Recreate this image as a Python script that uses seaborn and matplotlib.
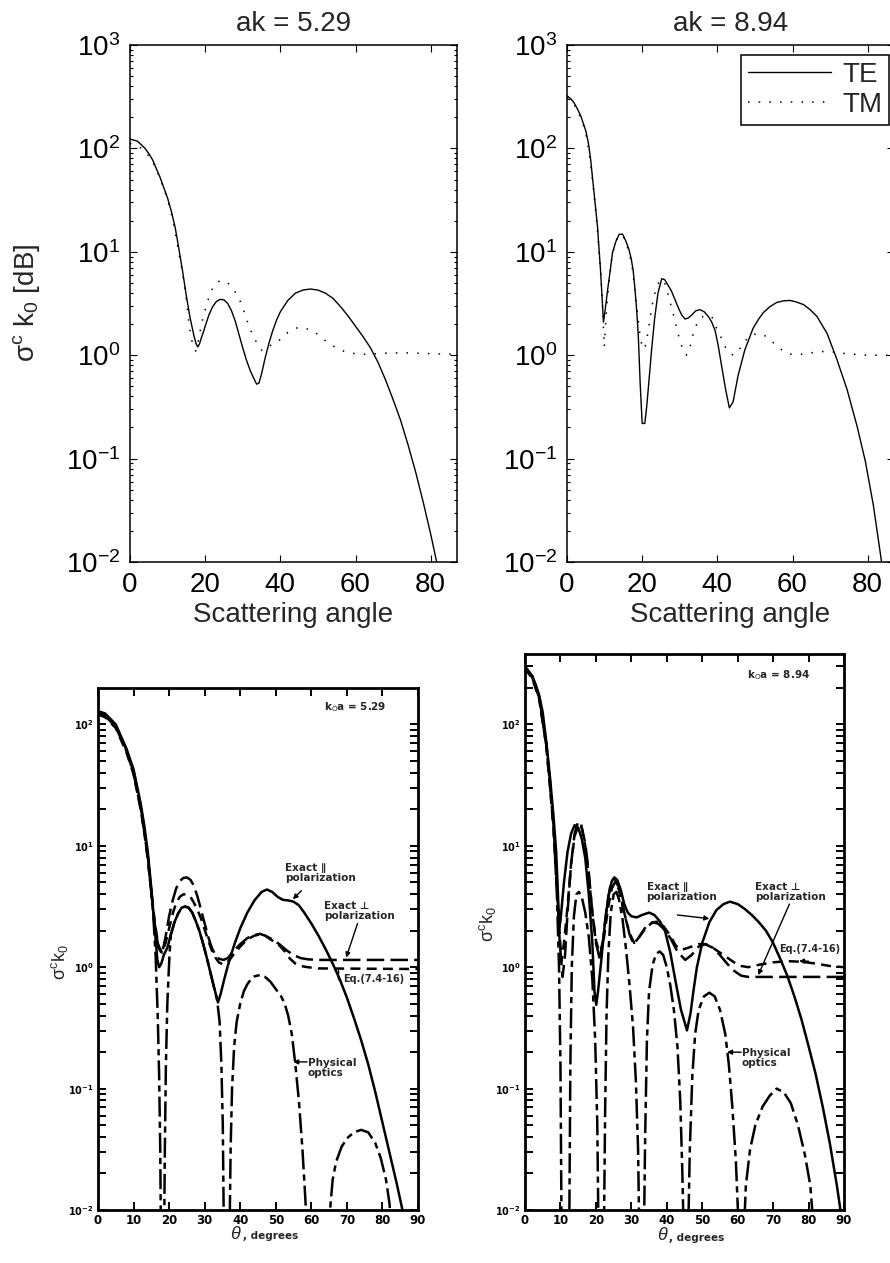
import numpy as np
import pandas as pd
import matplotlib
matplotlib.use('Agg')
import matplotlib.pyplot as plt
import seaborn as sns
from matplotlib.ticker import LogLocator, NullFormatter

# ---- data (angles in degrees, values read as log10 of sigma^c k0) ----
# top left, ak = 5.29
te529_deg = [0, 2, 4, 5, 6, 8, 10, 11, 12, 13, 14, 15, 16, 17, 17.5, 18, 18.5, 19, 19.5, 20,
             21, 22, 23, 24, 25, 26, 27, 28, 29, 30, 31, 32, 33, 33.7, 34.3, 35, 36, 37, 38, 39,
             40, 42, 44, 46, 48, 50, 52, 54, 56, 58, 60, 62, 64, 66, 68, 70, 72, 74, 76, 78,
             80, 82, 84]
te529_log = [2.09, 2.07, 2.0, 1.95, 1.89, 1.72, 1.52, 1.39, 1.24, 1.03, 0.81, 0.57, 0.36, 0.19, 0.12,
             0.08, 0.11, 0.17, 0.22, 0.28, 0.39, 0.47, 0.52, 0.54, 0.535, 0.50, 0.43, 0.33, 0.2, 0.07,
             -0.05, -0.15, -0.23, -0.28, -0.27, -0.18, -0.02, 0.12, 0.24, 0.34, 0.42, 0.53, 0.60, 0.63,
             0.64, 0.63, 0.60, 0.55, 0.47, 0.38, 0.28, 0.18, 0.07, -0.07, -0.24, -0.43, -0.63, -0.87,
             -1.13, -1.42, -1.73, -2.07, -2.45]
tm529_deg = [0, 2, 3.2, 5.2, 6.6, 8, 9, 10, 11, 12, 13, 14, 15, 15.7, 16.4, 17, 17.5, 18, 18.6, 19.2,
             20, 21, 22, 23, 24, 25, 26, 27, 28, 29, 30, 31, 32, 33, 34, 35, 36, 37, 38, 40,
             42, 44, 45.3, 46.5, 48.4, 50, 51, 52, 54, 56, 58, 60, 63, 66, 70, 74, 78, 82, 87]
tm529_log = [2.05, 2.02, 2.0, 1.92, 1.83, 1.71, 1.61, 1.50, 1.37, 1.19, 0.99, 0.79, 0.54, 0.30, 0.15,
             0.06, 0.04, 0.10, 0.22, 0.33, 0.44, 0.56, 0.65, 0.70, 0.72, 0.72, 0.70, 0.66, 0.61, 0.55,
             0.46, 0.35, 0.25, 0.17, 0.10, 0.05, 0.05, 0.08, 0.12, 0.15, 0.22, 0.26, 0.27, 0.26, 0.24,
             0.20, 0.17, 0.14, 0.09, 0.05, 0.025, 0.015, 0.008, 0.017, 0.022, 0.022, 0.018, 0.012, 0.01]

# top right, ak = 8.94
te894_deg = [0, 1, 1.9, 2.8, 3.7, 5, 5.7, 6.3, 7.2, 8.1, 8.85, 9.3, 9.7, 10.2, 10.8, 11.5, 12.1, 13,
             13.9, 14.8, 15.7, 16.5, 17.1, 17.6, 18, 18.4, 18.7, 19, 19.5, 20, 20.7, 21.2, 21.8, 22.5,
             23.3, 24.2, 25.2, 26, 27, 27.8, 28.7, 29.6, 30.5, 31.4, 32.3, 33.2, 34.3, 35.4, 36.5,
             37.6, 38.5, 39.4, 40.2, 41, 42.2, 43.2, 44.2, 45.5, 47.3, 49.5, 51, 52.2, 54, 55.8, 57.5,
             59.3, 61, 62.9, 64.7, 66.5, 69.2, 71.8, 74.5, 77.2, 79.4, 81.5, 83.5, 85]
te894_log = [2.51, 2.48, 2.44, 2.38, 2.31, 2.17, 2.05, 1.89, 1.57, 1.25, 0.86, 0.58, 0.32, 0.45, 0.63,
             0.82, 0.99, 1.1, 1.17, 1.17, 1.1, 1.02, 0.93, 0.82, 0.67, 0.5, 0.35, 0.16, -0.3, -0.66,
             -0.66, -0.5, -0.25, 0.05, 0.35, 0.6, 0.74, 0.73, 0.67, 0.62, 0.54, 0.46, 0.39, 0.35, 0.36,
             0.39, 0.43, 0.44, 0.42, 0.375, 0.32, 0.24, 0.1, -0.075, -0.33, -0.51, -0.45, -0.2, 0.05,
             0.26, 0.35, 0.41, 0.47, 0.51, 0.525, 0.53, 0.515, 0.49, 0.44, 0.375, 0.21, -0.04, -0.33,
             -0.69, -1.03, -1.45, -1.95, -2.35]
tm894_deg = [0, 2, 4, 5, 6, 7, 8, 9, 9.5, 9.9, 10.4, 11, 12, 13, 14, 14.8, 15.6, 16.5, 17.3, 18,
             18.7, 19.4, 20, 20.6, 21.2, 22, 23, 24, 25, 25.8, 26.5, 27.3, 28.2, 29, 29.6, 30.4,
             31.2, 31.8, 32.6, 33.6, 34.5, 35.4, 36.3, 37.4, 38.5, 39.7, 41, 42.2, 43.2, 44.3, 45.3,
             46.4, 47.3, 48.3, 49.8, 51.3, 52.6, 54, 55.2, 56.4, 57.8, 59.3, 61, 62.7, 64.5, 66, 68,
             69.4, 71, 72.7, 74.5, 76.1, 78, 79.6, 81.5, 83, 85, 87]
tm894_log = [2.49, 2.42, 2.27, 2.15, 1.93, 1.62, 1.25, 0.78, 0.45, 0.08, 0.38, 0.65, 0.96, 1.11, 1.16,
             1.16, 1.10, 1.0, 0.86, 0.66, 0.42, 0.2, 0.08, 0.06, 0.14, 0.34, 0.55, 0.68, 0.73, 0.72,
             0.64, 0.53, 0.41, 0.29, 0.2, 0.1, 0.02, 0.0, 0.06, 0.21, 0.3, 0.36, 0.375, 0.38, 0.375,
             0.27, 0.17, 0.075, 0.02, 0.0, 0.03, 0.085, 0.13, 0.18, 0.2, 0.21, 0.19, 0.15, 0.11, 0.07,
             0.035, 0.01, 0.005, 0.01, 0.02, 0.03, 0.035, 0.035, 0.03, 0.02, 0.015, 0.01, 0.005, 0.0,
             0.0, 0.0, 0.0, 0.0]

# bottom left, k0a = 5.29 (book figure)
par529_deg = [0, 2, 5, 8, 10, 12, 13, 14, 15, 16, 16.7, 17.2, 17.8, 18.5, 19.5, 20.5, 21.5, 22.5, 23.5,
              24.5, 25.5, 26.5, 27.5, 28.5, 29.5, 30.5, 31.5, 32.5, 33.75, 34.5, 35.5, 36.5, 37.5,
              38.5, 40, 42, 44, 46, 47.5, 49, 50.5, 52, 53.5, 55, 56.5, 58, 60, 62, 64, 66, 68, 70,
              72, 74, 76, 78, 80, 82, 84, 86, 87]
par529_log = [2.11, 2.09, 2.0, 1.8, 1.63, 1.35, 1.17, 0.95, 0.65, 0.3, 0.06, 0.0, 0.03, 0.1, 0.16, 0.27,
              0.37, 0.44, 0.49, 0.5, 0.49, 0.45, 0.38, 0.3, 0.2, 0.09, -0.03, -0.15, -0.29, -0.22,
              -0.1, 0.01, 0.11, 0.2, 0.32, 0.45, 0.55, 0.62, 0.64, 0.62, 0.58, 0.555, 0.55, 0.54,
              0.51, 0.45, 0.36, 0.26, 0.15, 0.03, -0.1, -0.25, -0.42, -0.6, -0.8, -1.03, -1.28, -1.53,
              -1.78, -2.05, -2.2]
perp529_deg = [0, 2, 5, 8, 10, 12, 13, 14, 15, 16, 17, 18, 19, 20, 21, 22, 23, 24, 25, 26, 27, 28, 29,
               30, 31, 32, 33, 34, 35.3, 36.5, 38, 40, 42, 44, 45.5, 47, 49, 51, 53, 55, 57, 59, 62,
               66, 90]
perp529_log = [2.10, 2.07, 1.98, 1.78, 1.6, 1.31, 1.12, 0.9, 0.62, 0.35, 0.16, 0.11, 0.25, 0.42, 0.55,
               0.65, 0.71, 0.735, 0.74, 0.72, 0.67, 0.58, 0.47, 0.36, 0.25, 0.16, 0.1, 0.07, 0.06,
               0.075, 0.13, 0.19, 0.24, 0.265, 0.275, 0.26, 0.23, 0.19, 0.14, 0.1, 0.075, 0.065,
               0.06, 0.06, 0.06]
eq529_deg = [0, 2, 5, 8, 10, 12, 13, 14, 15, 16, 17, 18, 19, 20, 21, 22, 23, 24, 25, 26, 27, 28, 29,
             30, 31, 32, 33, 34, 35, 36, 37, 38, 40, 42, 44, 45.5, 47, 49, 51, 52.5, 54, 55.5, 57,
             59, 62, 90]
eq529_log = [2.08, 2.06, 1.97, 1.77, 1.59, 1.3, 1.11, 0.89, 0.62, 0.36, 0.18, 0.12, 0.2, 0.32, 0.44,
             0.53, 0.58, 0.6, 0.6, 0.58, 0.53, 0.47, 0.4, 0.31, 0.22, 0.14, 0.08, 0.04, 0.025, 0.03,
             0.06, 0.1, 0.17, 0.23, 0.26, 0.27, 0.26, 0.22, 0.18, 0.13, 0.07, 0.03, 0.01, 0.0,
             -0.01, -0.015]
po529_deg = [0, 2, 5, 8, 10, 12, 13, 14, 15, 15.5, 16.2, 16.8, 17.2, 17.5, 17.7, 18.6, 18.8, 19.1,
             19.5, 20.1, 20.5, 21.5, 22.5, 23.5, 24.5, 25.5, 26.5, 27.5, 28.5, 29.5, 30.5, 31.5,
             32.5, 33.5, 34.2, 34.7, 35.1, 35.4, 37.0, 37.3, 37.7, 38.3, 39, 40, 41, 42, 43, 44,
             45.5, 47, 48.5, 50, 51.5, 52.5, 53.5, 54.5, 55.5, 56.5, 57.5, 58.3, 58.8, 65, 65.4,
             66, 67, 68.5, 70, 72, 74, 76, 78, 79.5, 81, 82, 82.6]
po529_log = [2.1, 2.08, 1.99, 1.79, 1.61, 1.32, 1.14, 0.92, 0.62, 0.45, 0.1, -0.4, -0.9, -1.5, -2.2,
             -2.2, -1.5, -0.8, -0.3, 0.1, 0.27, 0.37, 0.44, 0.49, 0.5, 0.49, 0.45, 0.38, 0.3, 0.2,
             0.09, -0.03, -0.15, -0.27, -0.45, -0.8, -1.3, -2.2, -2.2, -1.5, -1.0, -0.65, -0.45,
             -0.3, -0.2, -0.14, -0.1, -0.075, -0.065, -0.08, -0.12, -0.18, -0.24, -0.3, -0.4, -0.55,
             -0.8, -1.1, -1.5, -1.9, -2.2, -2.2, -1.95, -1.75, -1.6, -1.48, -1.41, -1.36, -1.34,
             -1.36, -1.45, -1.57, -1.75, -1.95, -2.2]

# bottom right, k0a = 8.94 (book figure)
par894_deg = [0, 2, 3, 4, 5, 6, 7, 8, 8.8, 9.3, 9.6, 10, 11, 12, 13, 14, 15, 16, 17, 18, 19, 19.6,
              20.1, 20.6, 21.5, 22.5, 23.5, 24.5, 25.2, 26, 27, 28, 29, 30, 31.5, 33, 35, 36.5, 38,
              39.5, 41, 42.5, 44, 45.7, 46.7, 47.6, 48.5, 50, 52, 54, 56, 57.8, 60, 62, 64, 66, 68,
              70, 72, 74, 76, 78, 80, 82, 84, 86, 88, 89.5]
par894_log = [2.48, 2.40, 2.33, 2.24, 2.1, 1.86, 1.58, 1.26, 0.95, 0.6, 0.32, 0.38, 0.7, 0.95, 1.1,
              1.17, 1.15, 1.06, 0.9, 0.6, 0.2, -0.2, -0.31, -0.2, 0.05, 0.35, 0.58, 0.71, 0.74, 0.72,
              0.64, 0.52, 0.45, 0.42, 0.41, 0.43, 0.45, 0.43, 0.38, 0.3, 0.12, -0.12, -0.35, -0.52,
              -0.38, -0.18, 0.0, 0.2, 0.37, 0.47, 0.52, 0.54, 0.52, 0.48, 0.43, 0.37, 0.3, 0.2, 0.07,
              -0.07, -0.24, -0.43, -0.65, -0.88, -1.15, -1.45, -1.8, -2.1]
perp894_deg = [0, 2, 4, 6, 7, 8, 9, 9.8, 10.6, 11.3, 12, 13, 14, 15, 15.8, 17, 18, 19, 20, 21, 22,
               23, 24, 25.2, 26.5, 28, 29.5, 30.6, 32, 34, 36, 37.5, 39, 41, 43, 45.2, 47, 49, 50.8,
               53, 55, 57, 59, 61, 63, 90]
perp894_log = [2.47, 2.39, 2.22, 1.83, 1.52, 1.18, 0.7, 0.2, -0.08, 0.1, 0.45, 0.85, 1.1, 1.2, 1.18,
               1.02, 0.78, 0.45, 0.2, 0.08, 0.22, 0.48, 0.66, 0.72, 0.66, 0.45, 0.27, 0.19, 0.24,
               0.33, 0.37, 0.36, 0.32, 0.24, 0.13, 0.06, 0.1, 0.17, 0.19, 0.16, 0.1, 0.03, -0.03,
               -0.07, -0.08, -0.08]
eq894_deg = [0, 2, 4, 6, 7, 8, 9, 9.7, 10.3, 11, 12, 13, 14, 15.2, 16, 17, 18, 19, 20, 21.2, 22.3,
             23.5, 24.5, 25.4, 26.5, 28, 29.5, 30.8, 32, 34, 36, 37.5, 39, 41, 42.5, 43.8, 45, 47,
             49, 51, 53, 55, 57, 59, 61, 63, 66, 70, 74, 78, 82, 86, 90]
eq894_log = [2.46, 2.38, 2.21, 1.82, 1.5, 1.15, 0.65, 0.3, 0.05, 0.2, 0.5, 0.85, 1.08, 1.18, 1.15,
             1.0, 0.75, 0.45, 0.22, 0.1, 0.25, 0.5, 0.65, 0.7, 0.64, 0.44, 0.28, 0.2, 0.24, 0.32,
             0.37, 0.375, 0.34, 0.26, 0.18, 0.145, 0.15, 0.17, 0.19, 0.19, 0.16, 0.12, 0.08, 0.04,
             0.01, 0.0, 0.02, 0.04, 0.05, 0.045, 0.03, 0.01, 0.0]
po894_deg = [0, 2, 4, 6, 7, 8, 9, 9.6, 10.0, 10.3, 12.5, 12.8, 13.2, 13.8, 14.5, 15.2, 16, 17, 18, 19,
             19.8, 20.4, 20.7, 22.3, 22.6, 23, 23.5, 24.2, 25, 25.8, 26.5, 27.5, 28.5, 29.5, 30.5,
             31.3, 31.9, 32.2, 33.6, 33.9, 34.4, 35, 36, 37, 38, 39, 40, 41, 42, 43, 43.8, 44.4,
             44.7, 46.1, 46.5, 47.2, 48, 49, 50.5, 52, 53.5, 55, 56.5, 57.5, 58.5, 59.5, 60.2, 61.9,
             62.3, 63.5, 65, 67, 69, 71, 73, 75, 77, 79, 80.5, 81.3]
po894_log = [2.47, 2.4, 2.23, 1.84, 1.55, 1.2, 0.6, 0.0, -0.8, -2.1, -2.1, -0.8, 0.0, 0.42, 0.6, 0.62,
             0.58, 0.45, 0.25, -0.1, -0.6, -1.3, -2.1, -2.1, -1.2, -0.4, 0.1, 0.45, 0.6, 0.62, 0.56,
             0.4, 0.15, -0.15, -0.5, -0.95, -1.5, -2.1, -2.1, -1.4, -0.6, -0.2, 0.02, 0.11, 0.13, 0.1,
             0.0, -0.15, -0.35, -0.65, -1.1, -1.7, -2.1, -2.1, -1.5, -0.9, -0.55, -0.35, -0.24,
             -0.21, -0.24, -0.35, -0.55, -0.8, -1.15, -1.6, -2.1, -2.1, -1.8, -1.5, -1.3, -1.15,
             -1.06, -1.0, -1.03, -1.12, -1.3, -1.55, -1.8, -2.1]

# ---- style ----
sns.set_style('ticks')
plt.rcParams['font.family'] = ['Liberation Sans', 'DejaVu Sans']
plt.rcParams['mathtext.fontset'] = 'custom'
plt.rcParams['mathtext.rm'] = 'Liberation Sans'
plt.rcParams['mathtext.it'] = 'Liberation Sans:italic'
plt.rcParams['mathtext.bf'] = 'Liberation Sans:bold'

W, H = 890, 1263
fig = plt.figure(figsize=(W / 100, H / 100), dpi=100)


def box(x0, y0, x1, y1):
    return [x0 / W, 1 - y1 / H, (x1 - x0) / W, (y1 - y0) / H]


def draw(ax, deg, logv, lw, ls):
    df = pd.DataFrame({'angle': deg, 'sigma': 10 ** np.asarray(logv, dtype=float)})
    sns.lineplot(data=df, x='angle', y='sigma', ax=ax, estimator=None, sort=False,
                 color='k', linewidth=lw, linestyle=ls)
    return ax.get_lines()[-1]


# ---- top: computed curves ----
ax1 = fig.add_axes(box(130, 45, 457, 562))
ax2 = fig.add_axes(box(567, 45, 894, 562))
dots = (0, (1, 6))
draw(ax1, te529_deg, te529_log, 1.0, '-')
draw(ax1, tm529_deg, tm529_log, 1.1, dots)
l_te = draw(ax2, te894_deg, te894_log, 1.0, '-')
l_tm = draw(ax2, tm894_deg, tm894_log, 1.1, dots)

for ax, title in [(ax1, 'ak = 5.29'), (ax2, 'ak = 8.94')]:
    ax.set_yscale('log')
    ax.set_ylim(1e-2, 1e3)
    ax.set_xlim(0, 87)
    ax.set_xticks([0, 20, 40, 60, 80])
    ax.yaxis.set_major_locator(LogLocator(base=10, numticks=10))
    ax.yaxis.set_minor_locator(LogLocator(base=10, subs=np.arange(2, 10), numticks=30))
    ax.yaxis.set_minor_formatter(NullFormatter())
    ax.tick_params(which='both', direction='in', top=True, right=True, width=0.8,
                   labelsize=20, colors='k')
    ax.tick_params(which='major', length=5, pad=7)
    ax.tick_params(which='minor', length=2.5)
    for s in ax.spines.values():
        s.set_linewidth(1.1)
        s.set_color('k')
    ax.set_title(title, fontsize=20, pad=10)
    ax.set_xlabel('Scattering angle', fontsize=20, labelpad=3)
    ax.set_ylabel('')

fig.text(27 / W, 1 - 303 / H, 'σ$^\\mathrm{c}$ k$_\\mathrm{0}$ [dB]', rotation=90,
         ha='center', va='center', fontsize=20)

ax2.legend([l_te, l_tm], ['TE', 'TM'], loc='upper right',
           bbox_to_anchor=(889 / W, 1 - 55 / H), bbox_transform=fig.transFigure,
           fontsize=20, frameon=True, fancybox=False, edgecolor='k', framealpha=1,
           handlelength=3.0, borderaxespad=0, borderpad=0.25, labelspacing=0.15,
           handletextpad=0.4).get_frame().set_linewidth(1.1)

# ---- bottom: book figures ----
ax3 = fig.add_axes(box(98, 688, 418, 1210))
ax4 = fig.add_axes(box(525, 654, 844, 1210))

lw_b = 1.8
for ax, sets in [(ax3, (par529_deg, par529_log, perp529_deg, perp529_log, eq529_deg, eq529_log,
                        po529_deg, po529_log)),
                 (ax4, (par894_deg, par894_log, perp894_deg, perp894_log, eq894_deg, eq894_log,
                        po894_deg, po894_log))]:
    draw(ax, sets[0], sets[1], lw_b, '-')
    draw(ax, sets[2], sets[3], lw_b, (0, (7, 2.5)))
    draw(ax, sets[4], sets[5], lw_b, (0, (4, 2.5)))
    draw(ax, sets[6], sets[7], lw_b, (0, (8, 2, 2.5, 2)))

for ax, ytop in [(ax3, 10 ** 2.3), (ax4, 10 ** 2.58)]:
    ax.set_yscale('log')
    ax.set_ylim(1e-2, ytop)
    ax.set_xlim(0, 90)
    ax.set_xticks(range(0, 91, 10))
    ax.yaxis.set_major_locator(LogLocator(base=10, numticks=10))
    ax.yaxis.set_minor_locator(LogLocator(base=10, subs=np.arange(2, 10), numticks=30))
    ax.yaxis.set_minor_formatter(NullFormatter())
    ax.tick_params(which='both', direction='in', top=True, right=True, width=1.4, colors='k')
    ax.tick_params(which='major', length=6, pad=3)
    ax.tick_params(which='minor', length=6)
    ax.tick_params(axis='x', labelsize=8.5)
    ax.tick_params(axis='y', labelsize=7)
    for lab in ax.get_xticklabels() + ax.get_yticklabels():
        lab.set_fontweight('bold')
        lab.set_family('DejaVu Sans')
    for s in ax.spines.values():
        s.set_linewidth(2.0)
        s.set_color('k')
    ax.set_xlabel('')
    ax.set_ylabel('')
    ax.text(0.45, -0.046, r'$\theta$', transform=ax.transAxes, ha='right', va='center',
            fontsize=13)
    ax.text(0.452, -0.05, ', degrees', transform=ax.transAxes, ha='left', va='center',
            fontsize=7.5, fontweight='bold', family='DejaVu Sans')

fig.text(60 / W, 1 - 962 / H, 'σ$^\\mathrm{c}$k$_\\mathrm{0}$', rotation=90,
         ha='center', va='center', fontsize=13)
fig.text(487 / W, 1 - 924 / H, 'σ$^\\mathrm{c}$k$_\\mathrm{0}$', rotation=90,
         ha='center', va='center', fontsize=13)

txt = dict(fontsize=7.5, fontweight='bold', family='DejaVu Sans', linespacing=1.0)
arr = dict(arrowstyle='-|>', color='k', lw=1.0, mutation_scale=7, shrinkA=0, shrinkB=0)

# annotations, k0a = 5.29
ax3.text(63.7, 10 ** 2.14, 'k$_\\mathrm{O}$a = 5.29', ha='left', va='center', **txt)
ax3.text(52.5, 10 ** 0.78, 'Exact \u2225\npolarization', ha='left', va='center', **txt)
ax3.annotate('', xy=(54.8, 10 ** 0.56), xytext=(57.2, 10 ** 0.63), arrowprops=arr)
ax3.text(63.7, 10 ** 0.46, 'Exact \u22a5\npolarization', ha='left', va='center', **txt)
ax3.annotate('', xy=(69.8, 10 ** 0.08), xytext=(73.0, 10 ** 0.36), arrowprops=arr)
ax3.annotate('Eq.(7.4-16)', xy=(67.6, 10 ** -0.02), xytext=(69.0, 10 ** -0.1),
             ha='left', va='center', fontsize=7, fontweight='bold', family='DejaVu Sans',
             arrowprops=dict(arrowstyle='-', color='k', lw=1.0, shrinkA=0, shrinkB=0,
                             connectionstyle='angle,angleA=0,angleB=90,rad=0'),
             annotation_clip=False)
ax3.text(59.0, 10 ** -0.83, 'Physical\noptics', ha='left', va='center', **txt)
ax3.annotate('', xy=(54.9, 10 ** -0.78), xytext=(58.8, 10 ** -0.78), arrowprops=arr)

# annotations, k0a = 8.94
ax4.text(62.5, 10 ** 2.41, 'k$_\\mathrm{O}$a = 8.94', ha='left', va='center', **txt)
ax4.text(34.3, 10 ** 0.62, 'Exact \u2225\npolarization', ha='left', va='center', **txt)
ax4.annotate('', xy=(52.0, 10 ** 0.40), xytext=(43.0, 10 ** 0.43), arrowprops=arr)
ax4.text(64.8, 10 ** 0.62, 'Exact \u22a5\npolarization', ha='left', va='center', **txt)
ax4.annotate('', xy=(65.8, 10 ** -0.065), xytext=(74.6, 10 ** 0.52), arrowprops=arr)
ax4.text(71.8, 10 ** 0.15, 'Eq.(7.4-16)', ha='left', va='center', fontsize=7,
         fontweight='bold', family='DejaVu Sans')
ax4.annotate('', xy=(77.3, 10 ** 0.05), xytext=(80.0, 10 ** 0.05), arrowprops=arr)
ax4.text(61.1, 10 ** -0.75, 'Physical\noptics', ha='left', va='center', **txt)
ax4.annotate('', xy=(57.0, 10 ** -0.70), xytext=(61.0, 10 ** -0.70), arrowprops=arr)

fig.savefig('out.png', dpi=100)
